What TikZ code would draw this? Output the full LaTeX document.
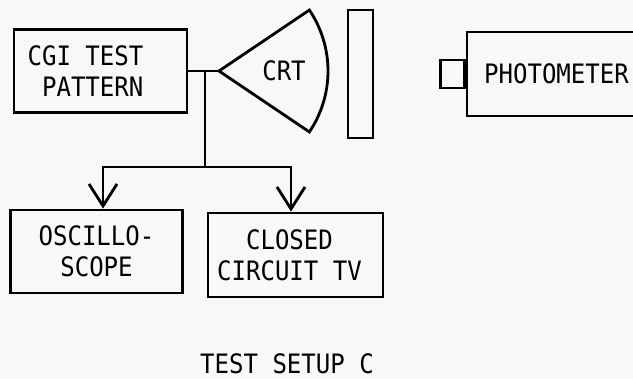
\documentclass[tikz,border=0pt]{standalone}
\usepackage{fontspec}
\newfontfamily\panelfont{DejaVu Sans Mono}[FakeStretch=0.9]
\definecolor{paper}{RGB}{248,248,246}
\usepackage{tikz}
\usetikzlibrary{arrows.meta,positioning}

\tikzset{
  box/.style={draw,align=center,inner sep=0pt},
  feed/.style={-{Straight Barb[length=0.55cm,width=0.7cm]}}
}

\begin{document}
\begin{tikzpicture}[x=0.025cm,y=0.025cm,line width=2pt,font=\panelfont\fontsize{19}{22}\selectfont]
        \useasboundingbox[fill=paper] (0,0) rectangle (633,-379);
        \clip (0,0) rectangle (633,-379);
        % pattern generator, the tube and its screen
        \node[box,minimum width=4.325cm,minimum height=2.075cm,align=right] (cgi) at (100.5,-71)
          {CGI TEST\hspace*{0.75cm}\\PATTERN\hspace*{0.75cm}};
        \coordinate (crt) at (219,-71);
        \draw (crt) -- ++(34:109) arc[start angle=34,end angle=-34,radius=109] -- cycle;
        \node (crttext) at (284,-71) {CRT};
        \node[box,minimum width=0.625cm,minimum height=3.2cm] (screen) at (360.5,-74) {};
        % photometer, cut by the right edge
        \node[box,minimum width=4.475cm,minimum height=2.1cm] (photo) at (556.5,-74) {PHOTOMETER};
        \node[box,minimum width=0.6cm,minimum height=0.7cm,left=0pt of photo] (lens) {};
        % monitors fed from the same signal
        \node[box,minimum width=4.3cm,minimum height=2.075cm] (osc) at (96.5,-251.5) {OSCILLO-\\SCOPE};
        \node[box,minimum width=4.375cm,minimum height=2.1cm] (cctv) at (295.5,-255)
          {CLOSED\hspace*{0.3cm}\\CIRCUIT TV\hspace*{0.3cm}};
        \coordinate (split) at (205,-71);
        \coordinate (fork) at (205,-167);
        \draw (cgi.east) -- (crt);
        \draw (split) -- (fork);
        \draw[feed] (fork) -| ([xshift=0.1625cm]osc.north);
        \draw[feed] (fork) -| ([xshift=-0.1125cm]cctv.north);
        \node (title) at (287,-364) {TEST SETUP C};
      \end{tikzpicture}
\end{document}
